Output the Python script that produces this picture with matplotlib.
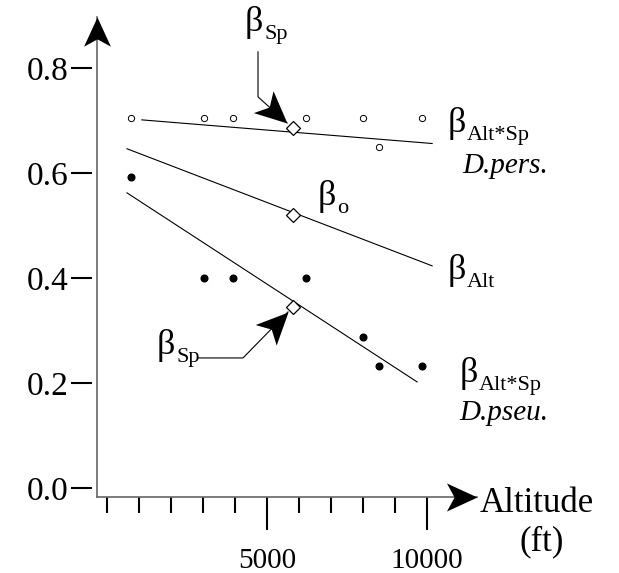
import numpy as np
import matplotlib
matplotlib.use('Agg')
import matplotlib.pyplot as plt
from matplotlib.path import Path
from matplotlib.markers import MarkerStyle
from matplotlib.transforms import Affine2D

plt.rcParams['font.family'] = ['Liberation Serif', 'DejaVu Serif']

# ---- data ----
altitude = [750, 3030, 3940, 6220, 8000, 8500, 9840]
pers_values = [0.705, 0.705, 0.705, 0.705, 0.705, 0.650, 0.705]   # D.pers. (open)
pseu_values = [0.593, 0.400, 0.400, 0.400, 0.288, 0.232, 0.232]   # D.pseu. (filled)

# fitted lines (end points)
pers_fit_x = [1090, 10160]
pers_fit_y = [0.701, 0.656]
alt_fit_x = [625, 10160]
alt_fit_y = [0.646, 0.423]
pseu_fit_x = [625, 9690]
pseu_fit_y = [0.562, 0.202]

# intercepts at the mean altitude (diamonds)
mean_alt = 5810
diamond_y = [0.686, 0.520, 0.345]

y_ticks = [0.0, 0.2, 0.4, 0.6, 0.8]
y_ticklabels = ['0.0', '0.2', '0.4', '0.6', '0.8']
x_major = [5000, 10000]
x_minor = np.arange(0, 10001, 1000)

# ---- figure ----
fig = plt.figure(figsize=(6.19, 5.73), dpi=100)
ax = fig.add_axes([0.1567, 0.1332, 0.6139, 0.8372])
ax.set_xlim(-312, 11562)
ax.set_ylim(-0.0166, 0.897)

for s in ['top', 'right']:
    ax.spines[s].set_visible(False)
ax.spines['left'].set_position(('outward', 3.6))
ax.spines['left'].set_visible(False)
ax.spines['bottom'].set_color('#666666')
ax.spines['bottom'].set_linewidth(1.2)

# visible y axis line (ticks sit a bit away from it)
ax.plot([0, 0], [0, 1], transform=ax.transAxes, color='#666666', lw=1.2,
        clip_on=False, zorder=3)

ax.set_yticks(y_ticks)
ax.set_yticklabels(y_ticklabels)
ax.tick_params(axis='y', direction='out', length=15, width=1.5, pad=2,
               labelsize=24, color='black')
ax.set_xticks(x_major)
ax.set_xticklabels([str(v) for v in x_major])
ax.set_xticks(x_minor, minor=True)
ax.tick_params(axis='x', which='major', direction='out', length=24, width=1.5,
               pad=13, labelsize=21, color='black')
ax.tick_params(axis='x', which='minor', direction='out', length=11.5, width=1.5,
               color='black')

# stealth arrow heads
stealth = Path([(0, 0), (-1, 0.46), (-0.75, 0), (-1, -0.46), (0, 0)],
               [Path.MOVETO, Path.LINETO, Path.LINETO, Path.LINETO, Path.CLOSEPOLY])


def head(angle):
    return MarkerStyle(stealth, transform=Affine2D().rotate_deg(angle))


ax.plot(0, 1, marker=head(90), ms=42, color='black', mew=0,
        transform=ax.transAxes, clip_on=False, zorder=4)
ax.plot(1, 0, marker=head(0), ms=44, color='black', mew=0,
        transform=ax.transAxes, clip_on=False, zorder=4)

# fits
for fx, fy in [(pers_fit_x, pers_fit_y), (alt_fit_x, alt_fit_y), (pseu_fit_x, pseu_fit_y)]:
    ax.plot(fx, fy, color='black', lw=0.8, zorder=2)

# points
ax.plot(altitude, pers_values, 'o', ms=4.5, mfc='white', mec='black', mew=0.7,
        ls='none', zorder=3)
ax.plot(altitude, pseu_values, 'o', ms=4.8, color='black', ls='none', zorder=3)
ax.plot([mean_alt] * 3, diamond_y, 'D', ms=7, mfc='white', mec='black', mew=0.9,
        ls='none', zorder=4)


# annotation arrows (bent leader lines)
def leader(xs, ys):
    ax.plot(xs, ys, color='black', lw=0.8, clip_on=False, zorder=3)
    p0 = ax.transData.transform((xs[-2], ys[-2]))
    p1 = ax.transData.transform((xs[-1], ys[-1]))
    ang = np.degrees(np.arctan2(p1[1] - p0[1], p1[0] - p0[0]))
    ax.plot(xs[-1], ys[-1], marker=head(ang), ms=46, color='black', mew=0,
            clip_on=False, zorder=5)


leader([4719, 4719, 5625], [0.8305, 0.7448, 0.6952])
leader([2844, 4250, 5656], [0.2476, 0.2476, 0.3352])


def beta_label(x, y, sub, size=26, sub_size=16):
    t = ax.text(x, y, 'β', fontsize=size, ha='left', va='baseline')
    ax.annotate(sub, xy=(1, 0), xycoords=t, xytext=(0.5, 0),
                textcoords='offset points', fontsize=sub_size,
                ha='left', va='baseline')


beta_label(4312, 0.8705, 'Sp')
beta_label(6594, 0.539, 'o')
beta_label(10656, 0.678, 'Alt*Sp')
beta_label(10656, 0.398, 'Alt')
beta_label(11031, 0.202, 'Alt*Sp')
beta_label(1562, 0.255, 'Sp')

ax.text(11094, 0.600, 'D.pers.', fontsize=21, style='italic', ha='left', va='baseline')
ax.text(11000, 0.1295, 'D.pseu.', fontsize=21, style='italic', ha='left', va='baseline')

ax.text(11656, -0.0457, 'Altitude', fontsize=25, ha='left', va='baseline', clip_on=False)
ax.text(13594, -0.118, '(ft)', fontsize=25, ha='center', va='baseline', clip_on=False)

fig.savefig('out.png', dpi=100)
